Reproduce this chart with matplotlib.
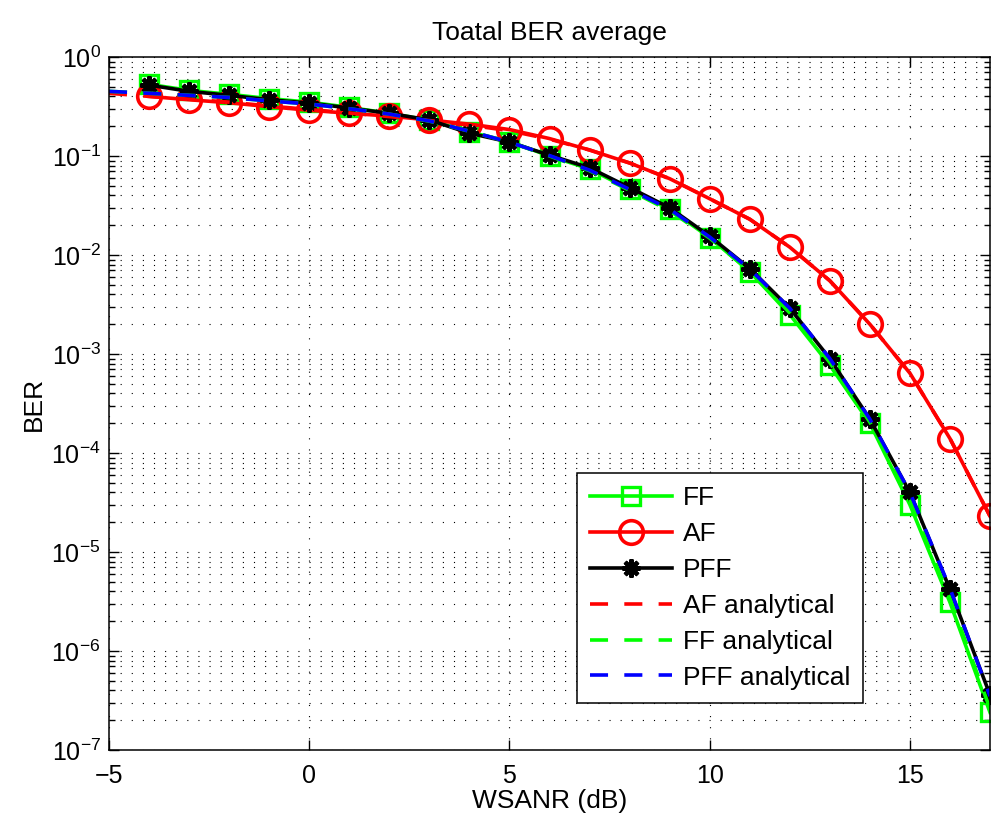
import matplotlib
matplotlib.use("Agg")
import matplotlib.pyplot as plt
import numpy as np
from matplotlib.ticker import LogLocator, NullFormatter, FixedLocator

plt.rcParams['font.family'] = ['Liberation Sans', 'DejaVu Sans']
plt.rcParams['mathtext.default'] = 'regular'

# simulated values (x = -4 .. 17 dB)
snr_sim = np.arange(-4, 18)
ber_ff = [0.53, 0.46, 0.42, 0.38, 0.35, 0.31, 0.27, 0.23, 0.175, 0.14, 0.10,
          0.074, 0.046, 0.029, 0.015, 0.0068, 0.0025, 7.7e-4, 2.0e-4, 3.0e-5,
          3.1e-6, 2.4e-7]
ber_af = [0.40, 0.37, 0.345, 0.315, 0.29, 0.27, 0.253, 0.231, 0.21, 0.185,
          0.15, 0.115, 0.085, 0.059, 0.037, 0.023, 0.012, 0.0055, 0.0020,
          6.4e-4, 1.4e-4, 2.3e-5]
ber_pff = [0.52, 0.45, 0.41, 0.37, 0.343, 0.305, 0.27, 0.231, 0.17, 0.138,
           0.102, 0.076, 0.048, 0.030, 0.0155, 0.0073, 0.0029, 9.0e-4,
           2.2e-4, 4.0e-5, 4.2e-6, 3.6e-7]

# analytical curves (x = -5 .. 17 dB)
snr_ana = np.arange(-5, 18)
ana_af = [0.43, 0.40, 0.375, 0.35, 0.32, 0.295, 0.272, 0.25, 0.228, 0.205,
          0.18, 0.148, 0.115, 0.085, 0.059, 0.037, 0.023, 0.012, 0.0055,
          0.0020, 6.4e-4, 1.4e-4, 2.3e-5]
ana_ff = [0.45, 0.43, 0.41, 0.39, 0.36, 0.335, 0.30, 0.265, 0.225, 0.178,
          0.138, 0.100, 0.071, 0.045, 0.028, 0.0148, 0.0069, 0.0026, 8.2e-4,
          2.05e-4, 3.3e-5, 3.4e-6, 2.6e-7]
ana_pff = [0.45, 0.43, 0.41, 0.39, 0.36, 0.335, 0.30, 0.265, 0.226, 0.178,
           0.138, 0.101, 0.072, 0.046, 0.029, 0.0152, 0.0072, 0.0029, 9.0e-4,
           2.2e-4, 4.0e-5, 4.3e-6, 3.5e-7]

fig = plt.figure(figsize=(9.95, 8.23), dpi=100)
ax = fig.add_axes([109/995, 1-750/823, 881/995, 693/823])

lw = 2.6
dash = (5, 4.5)
ax.semilogy(snr_sim, ber_ff, '-s', color=(0, 1, 0), lw=lw, ms=13,
            mfc='none', mew=2.4, label='FF')
ax.semilogy(snr_sim, ber_af, '-o', color='red', lw=lw, ms=17,
            mfc='none', mew=2.6, label='AF')
ax.semilogy(snr_sim, ber_pff, '-', marker=(8, 2, 0), color='black', lw=lw,
            ms=13, mew=3, label='PFF')
ax.semilogy(snr_ana, ana_af, '--', color='red', lw=lw, dashes=dash,
            label='AF analytical')
ax.semilogy(snr_ana, ana_ff, '--', color=(0, 1, 0), lw=lw, dashes=dash,
            label='FF analytical')
ax.semilogy(snr_ana, ana_pff, '--', color='blue', lw=lw, dashes=dash,
            label='PFF analytical')

ax.set_xlim(-5, 17)
ax.set_ylim(1e-7, 1)
ax.xaxis.set_major_locator(FixedLocator([-5, 0, 5, 10, 15]))
ax.yaxis.set_major_locator(LogLocator(base=10, numticks=10))
ax.yaxis.set_minor_locator(LogLocator(base=10, subs=np.arange(2, 10), numticks=20))
ax.yaxis.set_minor_formatter(NullFormatter())

ax.grid(True, which='major', axis='x', color='black', ls=(0, (1, 9)), lw=0.8)
ax.grid(True, which='both', axis='y', color='black', ls=(0, (1, 9)), lw=0.8)

ax.tick_params(which='both', direction='in', top=True, right=True,
               labelsize=18, width=1)
ax.tick_params(which='major', length=7)
ax.tick_params(axis='x', which='major', pad=10)
ax.tick_params(axis='y', which='major', pad=6)
ax.tick_params(which='minor', length=4)
for s in ax.spines.values():
    s.set_linewidth(1.1)

ax.set_title('Toatal BER average', fontsize=19, pad=12)
ax.set_xlabel('WSANR (dB)', fontsize=19, labelpad=1)
ax.set_ylabel('BER', fontsize=19, labelpad=4)

leg = ax.legend(loc='lower right', bbox_to_anchor=(0.856, 0.068), fontsize=19,
                fancybox=False, framealpha=1, edgecolor='black',
                handlelength=3.1, handletextpad=0.4, borderpad=0.5,
                labelspacing=0.45, borderaxespad=0)
leg.get_frame().set_linewidth(1.1)

fig.savefig('out.png', dpi=100)
